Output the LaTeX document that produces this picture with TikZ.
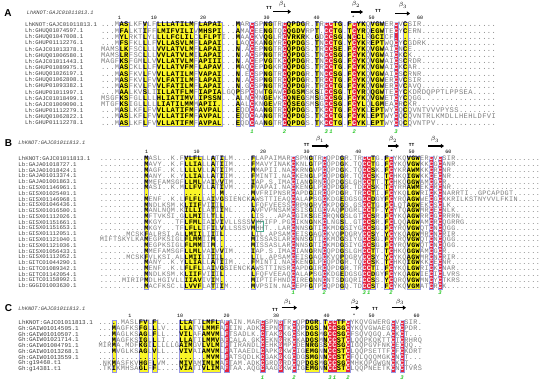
\documentclass[tikz,border=0pt]{standalone}
\usepackage{fontspec}
\usetikzlibrary{arrows.meta}
\newfontfamily\alnmono{Liberation Mono}
\newfontfamily\panelsans{Liberation Sans}
\definecolor{hlred}{RGB}{230,36,64}
\definecolor{hlyellow}{RGB}{250,246,40}
\definecolor{hlframe}{RGB}{150,150,225}
\definecolor{restgray}{RGB}{125,125,125}
\definecolor{knotgreen}{RGB}{40,200,40}
\definecolor{boxteal}{RGB}{70,175,145}
\newlength\alnkern

% one alignment row: column classes (r = red, y = yellow, - = plain), then residues
\ExplSyntaxOn
\tl_new:N \l_aln_cls_tl
\tl_new:N \l_aln_seq_tl
\NewDocumentCommand \alnrow { m m }
  {
    \tl_set:No \l_aln_cls_tl {#1}
    \tl_remove_all:Nn \l_aln_cls_tl { ~ }
    \tl_set:Nn \l_aln_seq_tl {#2}
    \tl_remove_all:Nn \l_aln_seq_tl { ~ }
    \int_step_inline:nn { \tl_count:N \l_aln_seq_tl }
      {
        \str_case_e:nnF { \tl_item:Nn \l_aln_cls_tl {##1} }
          {
            { r } { \textcolor{white}{ \bfseries \tl_item:Nn \l_aln_seq_tl {##1} } }
            { y } { \textcolor{black}{ \bfseries \tl_item:Nn \l_aln_seq_tl {##1} } }
          }
          { \tl_item:Nn \l_aln_seq_tl {##1} }
        \kern\alnkern
      }
  }
\ExplSyntaxOff

\newcommand\seqline[4]{%
  \node[seqname] (#1name#2) at (\nmx,{\yo+(#2-1)*\dy+1.6}) {#3};
  \node[seqtext] (#1seq#2) at (\xo,{\yo+(#2-1)*\dy+\bshift}) {\alnrow{\cls}{#4}};
}
\newcommand\colrun[3]{\path[#3] ({\xo+(#1-1)*\pw},\ytop) rectangle ({\xo+#2*\pw},\ybot);}

\begin{document}
\begin{tikzpicture}[x=1pt, y=-1pt,
  seqname/.style={anchor=base west, inner sep=0pt, text height=3.6pt, text depth=0.6pt, text=black!75, font=\alnmono\fontsize{5.7}{5.7}\selectfont},
  seqtext/.style={anchor=base west, inner sep=0pt, text height=4pt, text depth=0.8pt, text=restgray},
  refhead/.style={anchor=west, inner sep=0pt, text=black!75, font=\alnmono\itshape\fontsize{5.3}{5.3}\selectfont},
  panellabel/.style={inner sep=0pt, font=\panelsans\bfseries\fontsize{10}{10}\selectfont},
  rulernum/.style={inner sep=0pt, font=\alnmono\fontsize{5}{5}\selectfont},
  knotnum/.style={inner sep=0pt, text=knotgreen, font=\alnmono\bfseries\itshape\fontsize{5.5}{5.5}\selectfont},
  sselabel/.style={inner sep=0pt, font=\fontsize{6.5}{6.5}\selectfont},
  turn/.style={inner sep=0pt, font=\alnmono\bfseries\fontsize{4.6}{4.6}\selectfont},
  strand/.style={line width=1.1pt, -{Triangle[length=3.2pt,width=4.2pt]}},
  frame/.style={draw=hlframe, line width=0.3pt}]
  \fill[white] (0,0) rectangle (550,385);
  \useasboundingbox (0,0) rectangle (550,385);

  % panel A
  \def\xo{100.8}\def\pw{4.65}\def\yo{25}\def\dy{6.13}\def\nmx{25}\def\bshift{2.0}
  \def\ytop{21.9}\def\ybot{126.15}
  \setlength\alnkern{0.389pt}
  \def\cls{----yy---y --yyyyyyyy -yyyyy---y --r--yy--r yyyy--y-rr yy-yryy-yy y--r-y---- ---------- -----}
  \node[panellabel] (labA) at (8,12.7) {A};
  \node[refhead] (headA) at (26.7,12.7) {LhKNOT:GAJC01011813.1};
  \node[turn] (tA1) at (269,8) {TT};
  \node[sselabel] (bA1) at (283,4.5) {$\beta_1$};
  \draw[strand] (273,11.7) -- (291,11.7);
  \node[sselabel] (bA2) at (356,4.5) {$\beta_2$};
  \draw[strand] (351,12) -- (363,12);
  \node[turn] (tA2) at (378,10.5) {TT};
  \node[sselabel] (bA3) at (403,5.5) {$\beta_3$};
  \draw[strand] (395,13.5) -- (410,13.5);
  \foreach \x/\t [count=\k] in {119.3/1,154/10,203/20,266.7/30,316.7/40,353.3/*,371.7/50,420/60}
    \node[rulernum] (rulA\k) at (\x,17.5) {\t};
  \foreach \a/\b in {5/6,10/10,13/20,22/26,30/30,36/37,41/44,47/47,51/52,54/54,56/57,59/61,66/66}
    {\colrun{\a}{\b}{fill=hlyellow}}
  \foreach \a/\b in {33/33,40/40,49/50,55/55,64/64}
    {\colrun{\a}{\b}{fill=hlred}}
  \foreach \a/\b in {5/6,10/10,13/20,22/26,30/30,33/33,36/37,40/44,47/47,49/52,54/57,59/61,64/64,66/66}
    {\colrun{\a}{\b}{frame}}
  \begin{scope}[seqtext/.append style={font=\alnmono\fontsize{7.1}{7.1}\selectfont}]
  \seqline{A}{1}{LhKNOT:GAJC01011813.1}{...MASLKFV LFLLLATILM FLAPAI...M ARCSPNGTRC QPDGR.TRCC TG.FCYKQVG WERCVCSIR. .......... .....}
  \seqline{A}{2}{Lh:GHUQ01074597.1}{...MFALKTI FFLMIFVILI VMHSPI...A MACEENGTQC QGDVRPT.CC TG.TCYRQEG WTECYCERN. .......... .....}
  \seqline{A}{3}{Lh:GHUQ01047008.1}{...MYLRKTL YLLLLFCLIL CLFLPTI..M AACKVQGLRC VRKRK.GDCC SG.NCCLRGC ICF....... .......... .....}
  \seqline{A}{4}{Lh:GHUP01112276.1}{...MFSFKLL LFVLLASVLM FLAPAI...L AQCKANGYRC QPDGS.TNCC TG.YCYKREP TWQCYCGDRK .......... .....}
  \seqline{A}{5}{Lh:GAJC01013378.1}{MAMSLKFSCL LLVVLATVLM FLAPAI...N .ACEPNGTRC QPDGS.TRCC SE.FCYKQVG WAICNCE... .......... .....}
  \seqline{A}{6}{Lh:GHUQ01006580.1}{MAMSLRFSCL LLVVLATVLM ILAPAI...N .ACSPNGTRC QPDGS.TNCC SG.FCYKQVG WAICKCK... .......... .....}
  \seqline{A}{7}{Lh:GAJC01011443.1}{MAGFKSFGML LVVLLATVLM FAPIII...N .ACEPVGTKC QPDGR.TNCC SG.FCYKQVG WAICSCRDR. .......... .....}
  \seqline{A}{8}{Lh:GHUP01089975.1}{...MASCKLL LFVLLATVFM FLAPAV...M AQCEPDGKRC QPDGS.TRCC TG.FCYKQVG WAICKCAR.. .......... .....}
  \seqline{A}{9}{Lh:GHUQ01026197.1}{...MASFKVL FVVLLATILM FVAPAI...N .ECSPNGTRC QPDGR.TNCC SG.FCYKQVG WAICSCRNR. .......... .....}
  \seqline{A}{10}{Lh:GHUQ01062808.1}{...MASFKVL FVVLFATILM FLAPAI...N .ACSPNGTRC QPDGR.TRCC TG.FCYKQVG WERCVCSIR. .......... .....}
  \seqline{A}{11}{Lh:GHUP01093382.1}{...MASFKVL FVVLFATILM FLAPAI...N .GCSPNGTRC QPDGR.TRCC TG.FCYKQVG WERCVCAVQ. .......... .....}
  \seqline{A}{12}{Lh:GHUP01011997.1}{...MAALKVS LIILLATFLM FIAPIALGQP SPCQWTGAWC DGSMSKSICC SG.TCYRQQG WTECYCKDRD QPPTLPPSEA .....}
  \seqline{A}{13}{Lh:GAJC01018499.1}{MSGFKSFGLL LLHLIATIMV LIPSSN...A LNCMNGEVKC QNEGSMSGCC SG.FCYKQVG WETCYCQGG. .......... .....}
  \seqline{A}{14}{Lh:GAJC01009090.1}{MTGFKSIGLL LLLIATILMM MAPII....A ALCKNGEVRC QSEGSMSGCC SG.FCYLQLG MEACRCKR.. .......... .....}
  \seqline{A}{15}{Lh:GHUP01112279.1}{...MASLKFL FVVLLATIFM FAVPAL...E QDCAANGTRC QPDGS.TKCC TG.FCYKLEP TWYCQCQVNT VVVPYSS... .....}
  \seqline{A}{16}{Lh:GHUQ01062822.1}{...MASLKFL FVVLLATIFM FAVPAL...E QDCAANGTRC QPDGS.TKCC TG.FCYKLEP TWYCQCQVNT RLKMDLLHEH LDFVI}
  \seqline{A}{17}{Lh:GHUP01112278.1}{...MASLKFL FVVLLATIFM FAVPAL...E QDCAANGTRC QPDGS.TKCC TG.FCYKLEP TWYCQCQVNT PV........ .....}
  \end{scope}
  \foreach \c/\t [count=\k] in {33/1,40/2,49/3,50/1,55/2,64/3}
    \node[knotnum] (knA\k) at ({\xo+(\c-0.5)*\pw},131.5) {\t};

  % panel B
  \def\xo{99.6}\def\pw{4.45}\def\yo{159}\def\dy{5.78}\def\nmx{18.3}\def\bshift{1.95}
  \def\ytop{156.1}\def\ybot{289.05}
  \setlength\alnkern{0.369pt}
  \def\cls{---------- y--------y yyy--y-y-- ----y----- ---r---y-- r---y----r ry--yr---y yy--r-r--- ---------- ---------}
  \node[panellabel] (labB) at (8.5,143) {B};
  \node[refhead] (headB) at (18.3,143) {LhKNOT:GAJC01011813.1};
  \node[turn] (tB1) at (306.7,145) {TT};
  \node[sselabel] (bB1) at (320,139.5) {$\beta_1$};
  \draw[strand] (311.7,146) -- (329,146);
  \node[sselabel] (bB2) at (393,139.5) {$\beta_2$};
  \draw[strand] (388,146) -- (399,146);
  \node[turn] (tB2) at (411.7,145) {TT};
  \node[sselabel] (bB3) at (435,139.5) {$\beta_3$};
  \draw[strand] (428,146) -- (444,146);
  \foreach \x/\t [count=\k] in {146.7/1,196.7/10,263/20,306.7/30,358.3/40,391.7/*,411.7/50,448.3/60}
    \node[rulernum] (rulB\k) at (\x,152) {\t};
  \foreach \a/\b in {11/11,20/23,26/26,28/28,35/35,48/48,55/55,62/62,65/65,70/72}
    {\colrun{\a}{\b}{fill=hlyellow}}
  \foreach \a/\b in {44/44,51/51,60/61,66/66,75/75,77/77}
    {\colrun{\a}{\b}{fill=hlred}}
  \foreach \a/\b in {11/11,20/23,26/26,28/28,35/35,44/44,48/48,51/51,55/55,60/62,65/66,70/72,75/75,77/77}
    {\colrun{\a}{\b}{frame}}
  \draw[boxteal, line width=0.5pt] (256,221.7) rectangle (263.3,231.7);
  \begin{scope}[seqtext/.append style={font=\alnmono\fontsize{6.8}{6.8}\selectfont}]
  \seqline{B}{1}{LhKNOT:GAJC01011813.1}{.......... MASL..K.FV LFLLLATILM ....FLAPAI MARCSPNGTR CQPDGR.TRC CTG.FCYKQV GWERCVCSIR .......... .........}
  \seqline{B}{2}{Lb:GAJA01018727.1}{.......... MAVY..K.FL LIALLATIIM ....FMAVYI NAKCKNLGTP CQPDGK.TQC CTG.FCYKQV GWKKCGCANR .......... .........}
  \seqline{B}{3}{Lb:GAJA01018424.1}{.......... MAGF..K.LL LLVLLATIIM ....MMAPII .NACKRNGVP CQPDGK.TQC CSK.FCYKRA WMKKCRCNR. .......... .........}
  \seqline{B}{4}{Lb:GAJA01013374.1}{.......... MANY..K.YL LIALLATIIM ....FMINTI .NACKENGLP CQPDGR.TQC CSK.TCHKQI GWKKCECNR. .......... .........}
  \seqline{B}{5}{Lb:GAJA01001863.1}{.......... MMEFAMSGFL LMLVAIVVIM ....IAP.S. IMACIANGRN CQPDGSLGHC CTT.TCHKQG GWAMCGCR.. .......... .........}
  \seqline{B}{6}{Lb:GISX01146961.1}{.......... MASI..K.ML LFVLLATIVM ....FVAPAI .NACKENGLP CQPDGR.TDC CSK.TCYRHA WMEKCRCNR. .......... .........}
  \seqline{B}{7}{Lb:GISX01025401.1}{.......... .......... .......M.. ....MVFRIP NSRCAPDGIR CQPDGR.TRC CTI.FCYKQL GWRICKCNAR RTI..GPCAP DGT......}
  \seqline{B}{8}{Lb:GISX01146968.1}{.......... MENF..K.LF LFLLAIVGSI ENCKAWSTTI EAQCALAPSG CKDGEDGSGC CDGYFCYRQA GWWECGCKKR ILKSTNYVVL FKIN.....}
  \seqline{B}{9}{Lb:GISX01046436.1}{.......... MNDLKSM.KL IIFVIIIL.. ....LFQFVE ESSCRPNGRV CKPDGS.GSC CTG.FCLQTA GWEKCSCLK. .......... .........}
  \seqline{B}{10}{Lb:GISX01016500.1}{.......... MANLNQM.KI LLILATIIML ....AVFVPN SAMCSISGIG CVAQPDGRLC CTF.YCYTQA GWMRCECNLK .......... .........}
  \seqline{B}{11}{Lb:GISX01112026.1}{.......... MFTVKSI.GL LMIILTLL.. ....LIS... APACGIKSGE CRQNGSLGTC CSR.FCYKQA GWRRCGCRRR N......... .........}
  \seqline{B}{12}{Lb:GISX01151661.1}{.......... MKGY...TFL FMLIAIVIVL LSSSVMPIFP .PGCIKNGNK CLNGSL.GTC CSR.FCLQQA GWAMCRCQGR RG........ .........}
  \seqline{B}{13}{Lb:GISX01151653.1}{.......... MKGY...TFL FLLIFILVLL SSSVMHHT.. LARCNNSGTI CKMDGSIYGC CSG.FCYRQV GWQTCNCQGG .......... .........}
  \seqline{B}{14}{Lb:GISX01112051.1}{......MCSK FALRSI.ALL MIILIIIL.. ....LIL.AP SAMCEISGAG CKVQPDGRVC CSY.YCYKQA GWMRCNCRIR .......... .........}
  \seqline{B}{15}{Lb:GISX01121040.1}{MIFTSKYLKA MEGPKSIGLF LMMIIM.... ....MISSAS LARCNNSGTI CKMDGSIYGC CSG.FCYRQV GWQTCNCQGG .......... .........}
  \seqline{B}{16}{Lb:GISX01121036.1}{.......... MEGPKSIGLF LMMIIM.... ....MISSAS LARCNNSGTI CKMDGSIYGC CSG.FCYRQV GWQTCNCQGG .......... .........}
  \seqline{B}{17}{Lb:GISX01056433.1}{.......... MMEFAMSGFL LMLVAIVVIM ....IAP.S. IMACIANGRN CQPDGSLGHC CTT.TCHKQG GWAMCGCR.. .......... .........}
  \seqline{B}{18}{Lb:GISX01112052.1}{......MCSK FVLKSI.ALL MIILIIIL.. ....LIL.AP SAMCEISGAG CKVQPDGRVC CSY.YCYKQA GWMRCNCRIR .......... .........}
  \seqline{B}{19}{Lb:GITC01044290.1}{.......... MANY..K.YL LIALLATIIM ....FMINTI .NACKENGLP CQPDGR.TQC CSK.TCHKQI GWKKCECNR. .......... .........}
  \seqline{B}{20}{Lb:GITC01089342.1}{.......... MENF..K.LF LFLLAIVGSI ENCKAWSTTI NSRCAPDGIR CQPDGR.TRC CTI.FCYKQL GWRICKCNAR .......... .........}
  \seqline{B}{21}{Lb:GITC01142054.1}{.......... MNDLKSM.KL IIFVIIIL.. ....LFQFVE EAQCALAPSG CKDGEDGSGC CDGYFCYKQA GWIECICLVR S......... .........}
  \seqline{B}{22}{Lb:GITC01158992.1}{.....MIRIP MDLHGIVLLI IAVIVIM... ....MIPTIF HNDCIREGNN CNTSDGQRIC CSS.YCQRQV GWMNCYCTKR S......... .........}
  \seqline{B}{23}{Lb:GGGI01003630.1}{.......... MACFKSC.LL VVFLATIIM. ....MVPSIN .NACEPFGTP CQPDGQ.TDC CST.FCYKQV GMATCRCK.. .......... .........}
  \end{scope}
  \foreach \c/\t [count=\k] in {44/1,51/2,60/3,61/1,66/2,77/3}
    \node[knotnum] (knB\k) at ({\xo+(\c-0.5)*\pw},293) {\t};

  % panel C
  \def\xo{98.3}\def\pw{4.5}\def\yo{323}\def\dy{5.75}\def\nmx{18.3}\def\bshift{1.95}
  \def\ytop{320.1}\def\ybot{371.9}
  \setlength\alnkern{0.359pt}
  \def\cls{---y-----y y-y-----yy y--yyyy-r- ------r--- r--r--yyy- yrryyr---- -----r-r-- --}
  \node[panellabel] (labC) at (8.5,308.5) {C};
  \node[refhead] (headC) at (18.3,308.5) {LhKNOT:GAJC01011813.1};
  \node[turn] (tC1) at (275,310) {TT};
  \node[sselabel] (bC1) at (288,302) {$\beta_1$};
  \draw[strand] (281.7,307.7) -- (297,307.7);
  \node[sselabel] (bC2) at (355,302) {$\beta_2$};
  \draw[strand] (351,307.7) -- (359,307.7);
  \node[turn] (tC2) at (375,308.5) {TT};
  \node[sselabel] (bC3) at (400,302) {$\beta_3$};
  \draw[strand] (391.7,307.7) -- (406,307.7);
  \foreach \x/\t [count=\k] in {130/1,180/10,226.7/20,276/30,326.7/40,354/*,371.7/50,416.7/60}
    \node[rulernum] (rulC\k) at (\x,316) {\t};
  \foreach \a/\b in {4/4,10/11,13/13,19/21,24/27,47/49,51/51,54/55}
    {\colrun{\a}{\b}{fill=hlyellow}}
  \foreach \a/\b in {29/29,37/37,41/41,44/44,52/53,56/56,66/66,68/68}
    {\colrun{\a}{\b}{fill=hlred}}
  \foreach \a/\b in {4/4,10/11,13/13,19/21,24/27,29/29,37/37,41/41,44/44,47/49,51/56,66/66,68/68}
    {\colrun{\a}{\b}{frame}}
  \begin{scope}[seqtext/.append style={font=\alnmono\fontsize{6.9}{6.9}\selectfont},
                seqname/.append style={font=\alnmono\fontsize{5.9}{5.9}\selectfont}]
  \seqline{C}{1}{LhKNOT:GAJC01011813.1}{.....MASLF VLFL....LL ATILMFLAFA IN.MARCSPN GTRCQPDGR. TCCTFCYKQV GWERGCVCSI R.}
  \seqline{C}{2}{Gh:GAIW01014505.1}{...MAGFKSF GLLLV...LL ATVLMMFAFI IN.ADKCEPN GTKCQPDGS. NCCSGCYKQV GWAEGCRCPD R.}
  \seqline{C}{3}{Gh:GAIW01010507.1}{...MAGLKSA GLFLL...VI LAFAMVMLFT SADLK.CTAK GKGCSKDGSM GCCSGCFSQV QGQ.ACKCT. ..}
  \seqline{C}{4}{Gh:GAIW01021714.1}{...MAGFKSI GLLLI...LL ATILMMVAFC ALA.GKCEKN GRKCKADGSM NCCSTCLQQP KQKTTCTCRH RQ}
  \seqline{C}{5}{Gh:GAIW01004791.1}{MIRMA.MDFK GILLLLLGAI MGVLVLMIFT IRANDLCEHK GMPCDENRGS SCCSGCIGQP GVFNKCECQQ ..}
  \seqline{C}{6}{Gh:GAIW01013268.1}{...MVGLKSA GLVLL...VI VAIAMVMLFA TAAEDLCAPK GKWCIGEMGN NCCSTCLQQP SETTFCFCKD RT}
  \seqline{C}{7}{Gh:GAIW01013559.1}{.......... .......... ....MVMLFA TSQDLKCGAK GKGCDGSMGN NCCSTCFQLQ QQMGKCNCT. ..}
  \seqline{C}{8}{Gh:g19460.t1}{.NKMASFKVH GFLVM...MI VAMIMLMAFT AM.ADKCGRD GRDCQPDGSM GCCSGCMHKQ PGWGNCKCT. ..}
  \seqline{C}{9}{Gh:g14381.t1}{.TKIKMHSAG LFFL....VI ATIVLIMAFT AA.AQGCAAG GKWCIGEMGN NCCSTCLQQP NEETKCNCTV RS}
  \end{scope}
  \foreach \c/\t [count=\k] in {37/1,44/2,52/3,53/1,56/2,68/3}
    \node[knotnum] (knC\k) at ({\xo+(\c-0.5)*\pw},377.5) {\t};
\end{tikzpicture}
\end{document}
